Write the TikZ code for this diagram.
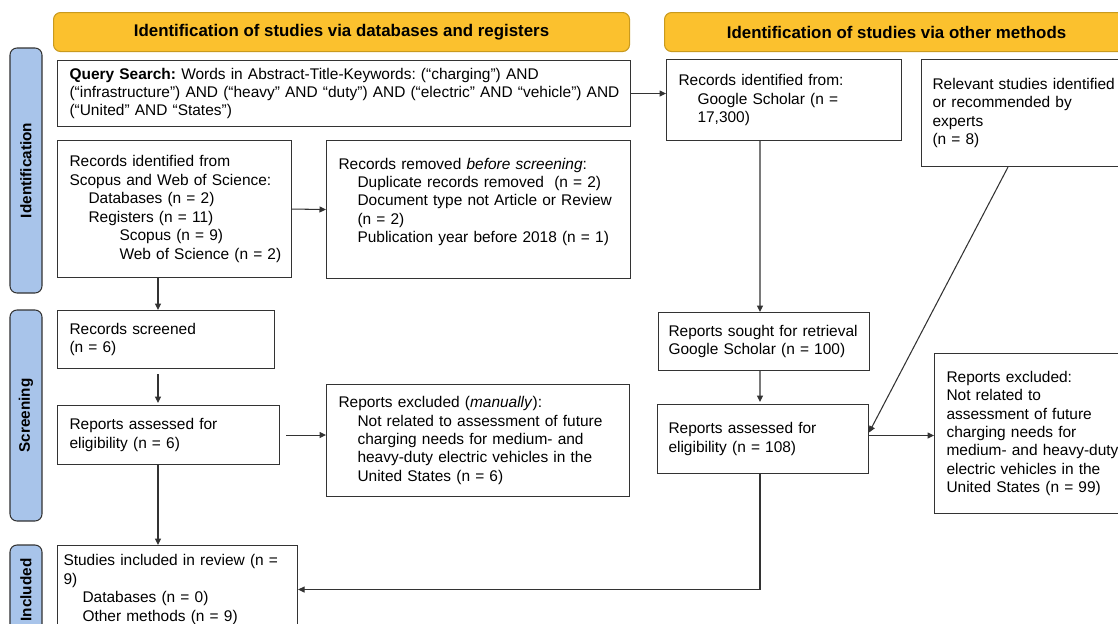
\documentclass[tikz,border=0pt]{standalone}
\usepackage{fontspec}
\setmainfont{Liberation Sans}
\usetikzlibrary{arrows.meta,positioning,calc}
\definecolor{cHdr}{HTML}{FBC12E}
\definecolor{cHdrLine}{HTML}{C99A1E}
\definecolor{cSide}{HTML}{A8C4EA}
\definecolor{cInk}{HTML}{333333}
\newcommand{\indA}{\hspace*{3.8mm}}
\newcommand{\indB}{\hspace*{10mm}}
\tikzset{
  >={Triangle[length=1.3mm,width=1.2mm]},
  box/.style  ={draw=cInk,fill=white,anchor=north west,align=left,
                inner xsep=2.4mm,inner ysep=0pt,line width=0.6pt,
                font=\fontsize{8.8}{10.5}\selectfont\frenchspacing},
  hdr/.style  ={rounded corners=4pt,draw=cHdrLine,fill=cHdr,anchor=north west,
                line width=0.6pt,font=\bfseries\fontsize{9.6}{11}\selectfont},
  side/.style ={rounded corners=4pt,draw=cInk,fill=cSide,rotate=90,
                line width=0.6pt,minimum height=6.4mm,
                font=\bfseries\fontsize{8.7}{10}\selectfont},
  ar/.style   ={->,line width=0.6pt,cInk},
  ln/.style   ={line width=0.6pt,cInk},
}
\begin{document}
\begin{tikzpicture}[x=0.2mm,y=-0.2mm]
\clip (0,0) rectangle (1118,624);
\fill[white] (0,0) rectangle (1118,624);
\node[hdr,minimum width=115.2mm,minimum height=7.8mm] (hdrL) at (53,12)
  {Identification of studies via databases and registers};
\node[hdr,minimum width=92.8mm,minimum height=7.8mm] (hdrR) at (664,12)
  {Identification of studies via other methods};
\node[side,minimum width=49mm] (sideId) at (26,170.5) {Identification};
\node[side,minimum width=42.2mm] (sideSc) at (26,415.5) {Screening};
\node[side,minimum width=18mm] (sideIn) at (26,590) {Included};

\node[box,minimum width=114.6mm,minimum height=13.2mm,text width=109.8mm] (query) at (57,60)
  {\mbox{\textbf{Query Search:} Words in Abstract-Title-Keywords: (“charging”) AND}\\
   \mbox{(“infrastructure”) AND (“heavy” AND “duty”) AND (“electric” AND “vehicle”) AND}\\
   (“United” AND “States”)};
\node[box,minimum width=46.8mm,minimum height=27.4mm,text width=42mm] (scopus) at (57,140)
  {Records identified from\\ \mbox{Scopus and Web of Science:}\\
   \indA Databases (n = 2)\\ \indA Registers (n = 11)\\
   \indB Scopus (n = 9)\\ \indB\mbox{Web of Science (n = 2)}};
\node[box,minimum width=60.8mm,minimum height=27.6mm,text width=56mm] (removed) at (326,140)
  {Records removed \textit{before screening}:\\
   \indA Duplicate records removed\ \ (n = 2)\\
   \indA\mbox{Document type not Article or Review}\\ \indA (n = 2)\\
   \indA\mbox{Publication year before 2018 (n = 1)}\\ \mbox{}};
\node[box,minimum width=43.4mm,minimum height=11.6mm,text width=38.6mm] (screened) at (57,310)
  {Records screened\\ (n = 6)};
\node[box,minimum width=44.4mm,minimum height=11.8mm,text width=39.6mm] (assessed) at (57,405)
  {Reports assessed for\\ eligibility (n = 6)};
\node[box,minimum width=60.6mm,minimum height=22.4mm,text width=55.8mm] (exclMan) at (326,384)
  {Reports excluded (\textit{manually}):\\
   \indA\mbox{Not related to assessment of future}\\
   \indA\mbox{charging needs for medium- and}\\
   \indA\mbox{heavy-duty electric vehicles in the}\\
   \indA United States (n = 6)};
\node[box,minimum width=48mm,minimum height=17.6mm,text width=45.6mm,inner xsep=1.2mm] (included) at (57,545)
  {\mbox{Studies included in review (n =}\\ 9)\\
   \indA Databases (n = 0)\\ \indA Other methods (n = 9)};

\node[box,minimum width=47mm,minimum height=16.2mm,text width=42.2mm] (google) at (666,59)
  {Records identified from:\\ \indA Google Scholar (n =\\ \indA 17,300)};
\node[box,minimum width=42mm,minimum height=21.4mm,text width=37.6mm,inner xsep=2.2mm] (experts) at (921,59)
  {\mbox{Relevant studies identified}\\ or recommended by\\ experts\\ (n = 8)};
\node[box,minimum width=42.2mm,minimum height=11.6mm,text width=38.2mm,inner xsep=2mm] (sought) at (658,312)
  {\mbox{Reports sought for retrieval}\\ \mbox{Google Scholar (n = 100)}};
\node[box,minimum width=42.2mm,minimum height=13.8mm,text width=37.8mm,inner xsep=2.2mm] (assessedB) at (657,404)
  {Reports assessed for\\ eligibility (n = 108)};
\node[box,minimum width=40mm,minimum height=32mm,text width=35.2mm] (exclB) at (934,353)
  {Reports excluded:\\ Not related to\\ assessment of future\\ charging needs for\\
   \mbox{medium- and heavy-duty}\\ \mbox{electric vehicles in the}\\ \mbox{United States (n = 99)}};

\draw[ar] (query.east) -- (query.east -| google.west);
\draw[ar] (scopus.east) -- (removed.west);
\draw[ar] ([xshift=20.2mm]scopus.south west) -- ([xshift=20.2mm]screened.north west);
\draw[ar,shorten <=1mm,shorten >=0.4mm] ([xshift=20.2mm]screened.south west) -- ([xshift=20.2mm]assessed.north west);
\draw[ar,shorten <=1.2mm] (assessed.east) -- (assessed.east -| exclMan.west);
\draw[ar] ([xshift=20.2mm]assessed.south west) -- ([xshift=20.2mm]included.north west);
\draw[ar] ([xshift=18.8mm]google.south west) -- ([xshift=20.4mm]sought.north west);
\draw[ar,shorten >=0.4mm] ([xshift=20.4mm]sought.south west) -- ([xshift=20.6mm]assessedB.north west);
\draw[ar] ([xshift=17.4mm]experts.south west) -- ([yshift=1.3mm]assessedB.east);
\draw[ar] ([yshift=0.7mm]assessedB.east) -- ([yshift=0.7mm]assessedB.east -| exclB.west);
\draw[ar] ([xshift=20.6mm]assessedB.south west) |- (included.east);
\end{tikzpicture}
\end{document}
